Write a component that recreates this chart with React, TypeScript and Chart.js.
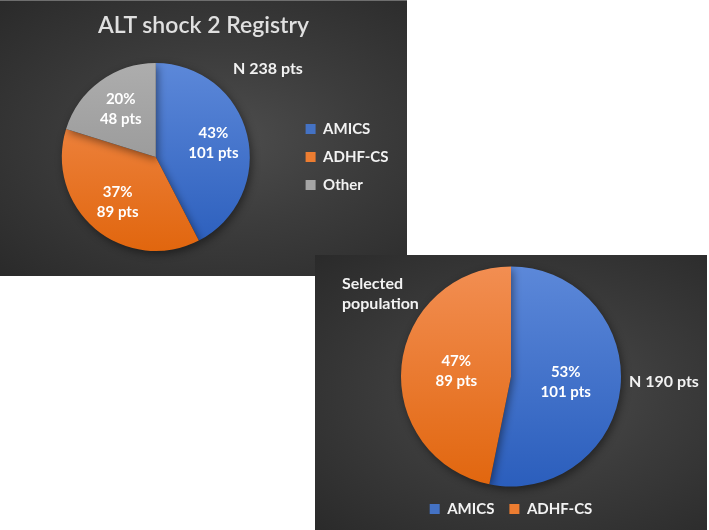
import React, { useEffect, useRef } from "react";
import { Chart, registerables } from "chart.js";

Chart.register(...registerables);

// ---- data ----
const registryTitle = "ALT shock 2 Registry";
const registryLabels = ["AMICS", "ADHF-CS", "Other"];
const registryValues = [101, 89, 48];
const registryPercents = ["43%", "37%", "20%"];
const registryTotal = "N 238 pts";

const selectedLabels = ["AMICS", "ADHF-CS"];
const selectedValues = [101, 89];
const selectedPercents = ["53%", "47%"];
const selectedTotal = "N 190 pts";
const selectedCaption = ["Selected", "population"];

// ---- styles ----
const solidColors = ["#4472C4", "#ED7D31", "#A5A5A5"];
const gradTop = ["#5c88d9", "#f28e52", "#adadad"];
const gradBottom = ["#2b5ebc", "#e1660e", "#8b8b8b"];
const FONT = "Lato, 'Open Sans', sans-serif";
const TEXT = "#f2f2f2";

function sliceFill(ctx: any) {
  const i = ctx.dataIndex ?? 0;
  const chart = ctx.chart;
  const a = chart.chartArea;
  if (!a) return solidColors[i];
  const g = chart.ctx.createLinearGradient(0, a.top, 0, a.bottom);
  g.addColorStop(0, gradTop[i]);
  g.addColorStop(1, gradBottom[i]);
  return g;
}

const sliceLabelPlugin = {
  id: "sliceLabels",
  afterDatasetsDraw(chart: any, _args: any, opts: any) {
    const meta = chart.getDatasetMeta(0);
    const ctx = chart.ctx;
    ctx.save();
    ctx.font = `bold 15px ${FONT}`;
    ctx.fillStyle = "#ffffff";
    ctx.textAlign = "center";
    ctx.textBaseline = "middle";
    meta.data.forEach((arc: any, i: number) => {
      const p = arc.getProps(["x", "y", "startAngle", "endAngle", "outerRadius"], true);
      const mid = (p.startAngle + p.endAngle) / 2;
      const r = p.outerRadius * opts.ratio;
      const cx = p.x + Math.cos(mid) * r;
      const cy = p.y + Math.sin(mid) * r;
      ctx.fillText(opts.percents[i], cx, cy - opts.gap / 2);
      ctx.fillText(`${chart.data.datasets[0].data[i]} pts`, cx, cy + opts.gap / 2);
    });
    ctx.restore();
  },
};

const shadowPlugin = {
  id: "pieShadow",
  beforeDatasetDraw(chart: any) {
    const ctx = chart.ctx;
    ctx.save();
    ctx.shadowColor = "rgba(0,0,0,0.45)";
    ctx.shadowBlur = 8;
    ctx.shadowOffsetX = 2;
    ctx.shadowOffsetY = 3;
  },
  afterDatasetDraw(chart: any) {
    chart.ctx.restore();
  },
};

function legendItems(chart: any) {
  return chart.data.labels.map((text: string, i: number) => ({
    text,
    fillStyle: solidColors[i],
    strokeStyle: solidColors[i],
    lineWidth: 0,
    fontColor: TEXT,
    hidden: false,
    index: i,
  }));
}

function PieCanvas({ width, height, config }: { width: number; height: number; config: any }) {
  const ref = useRef<HTMLCanvasElement>(null);
  useEffect(() => {
    if (!ref.current) return;
    const chart = new Chart(ref.current, config);
    return () => chart.destroy();
  }, []);
  return (
    <canvas
      ref={ref}
      width={width}
      height={height}
      style={{ position: "absolute", left: 0, top: 0, display: "block", width, height }}
    />
  );
}

const registryConfig = {
  type: "pie",
  data: {
    labels: registryLabels,
    datasets: [{ data: registryValues, backgroundColor: sliceFill, borderWidth: 0 }],
  },
  options: {
    responsive: false,
    animation: false,
    events: [],
    layout: { padding: { top: 63, left: 19, right: 8.5, bottom: 25 } },
    plugins: {
      title: { display: false },
      legend: {
        position: "right",
        labels: {
          font: { family: FONT, size: 15, weight: "bold" },
          color: TEXT,
          boxWidth: 10,
          boxHeight: 10,
          padding: 13,
          generateLabels: legendItems,
        },
      },
      tooltip: { enabled: false },
      sliceLabels: { ratio: 0.63, gap: 20, percents: registryPercents },
    },
  },
  plugins: [shadowPlugin, sliceLabelPlugin],
};

const selectedConfig = {
  type: "pie",
  data: {
    labels: selectedLabels,
    datasets: [{ data: selectedValues, backgroundColor: sliceFill, borderWidth: 0 }],
  },
  options: {
    responsive: false,
    animation: false,
    events: [],
    layout: { padding: { top: 11.5, left: 0, right: 0, bottom: 3.5 } },
    plugins: {
      title: { display: false },
      legend: {
        position: "bottom",
        labels: {
          font: { family: FONT, size: 15, weight: "bold" },
          color: TEXT,
          boxWidth: 10,
          boxHeight: 10,
          padding: 15,
          generateLabels: legendItems,
        },
      },
      tooltip: { enabled: false },
      sliceLabels: { ratio: 0.5, gap: 20, percents: selectedPercents },
    },
  },
  plugins: [shadowPlugin, sliceLabelPlugin],
};

const panelBg = "radial-gradient(ellipse at 55% 50%, #4d4d4d 0%, #3c3c3c 45%, #2a2a2a 100%)";
const textStyle: React.CSSProperties = {
  position: "absolute",
  fontFamily: FONT,
  fontWeight: "bold",
  fontSize: 16,
  lineHeight: "20px",
  color: TEXT,
  whiteSpace: "nowrap",
};

export default function App() {
  return (
    <div style={{ position: "fixed", left: 0, top: 0, width: 709, height: 530, background: "#ffffff", overflow: "hidden" }}>
      <div style={{ position: "absolute", left: 0, top: 0, width: 407, height: 276, background: panelBg }}>
        <PieCanvas width={407} height={276} config={registryConfig} />
        <div style={{ position: "absolute", left: 0, top: 0, width: 407, height: 1, background: "#6e6e6e" }} />
        <div
          style={{
            position: "absolute",
            left: 0,
            top: 10,
            width: 407,
            textAlign: "center",
            fontFamily: FONT,
            fontWeight: 600,
            fontSize: 23,
            lineHeight: "28px",
            color: "#e0e0e0",
            whiteSpace: "nowrap",
          }}
        >
          {registryTitle}
        </div>
        <div style={{ ...textStyle, left: 233, top: 58 }}>{registryTotal}</div>
      </div>
      <div style={{ position: "absolute", left: 315, top: 255, width: 392, height: 275, background: panelBg }}>
        <PieCanvas width={392} height={275} config={selectedConfig} />
        <div style={{ ...textStyle, left: 27, top: 18 }}>
          {selectedCaption[0]}
          <br />
          {selectedCaption[1]}
        </div>
        <div style={{ ...textStyle, left: 314, top: 116 }}>{selectedTotal}</div>
      </div>
    </div>
  );
}
